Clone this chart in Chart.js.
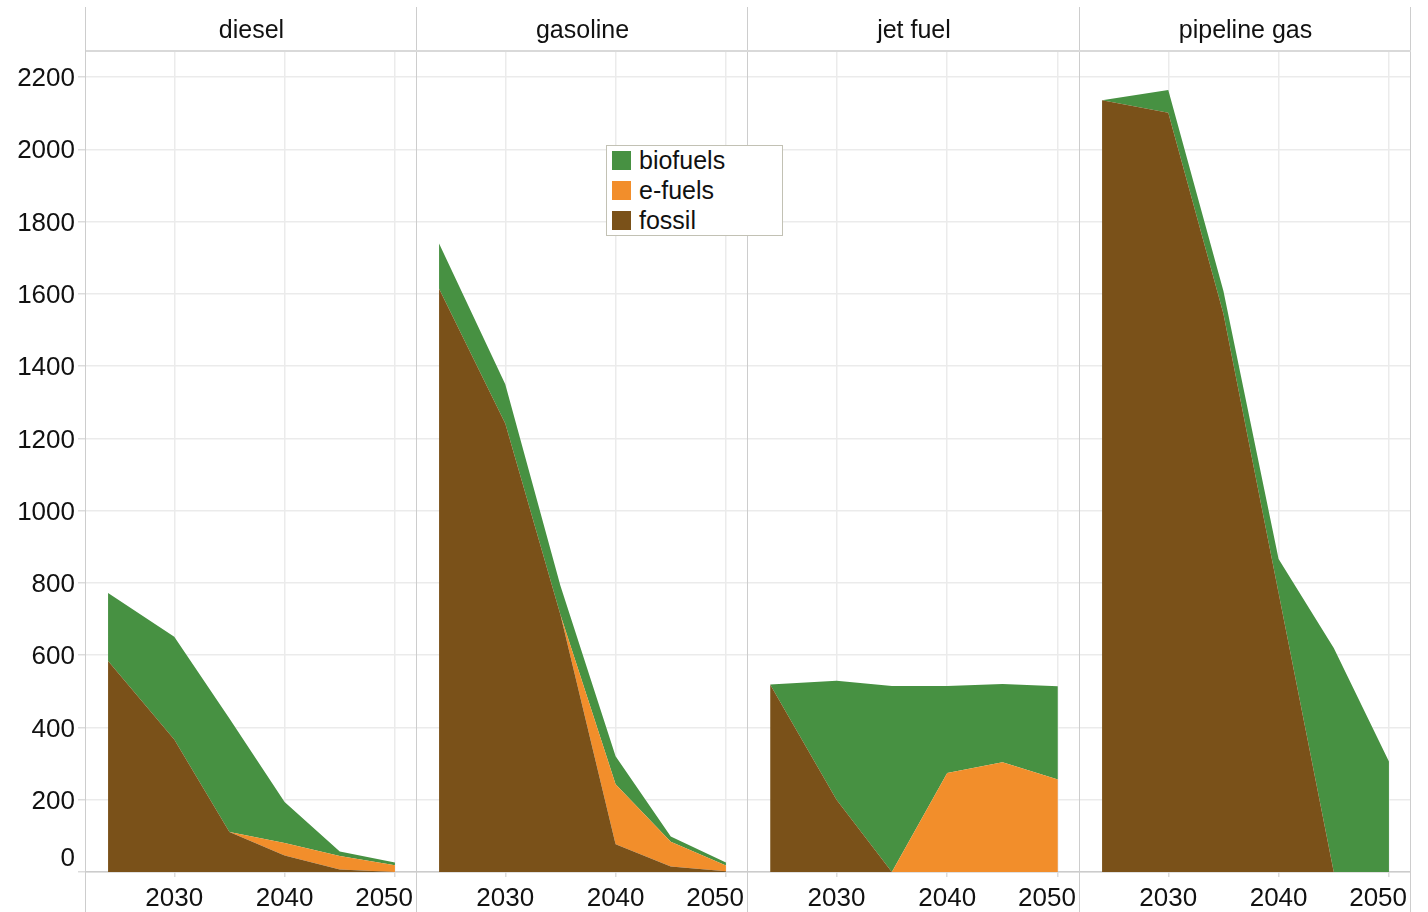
<!DOCTYPE html>
<html>
<head>
<meta charset="utf-8">
<script src="https://cdn.jsdelivr.net/npm/chart.js@4.4.1/dist/chart.umd.min.js"></script>
<style>
html,body{margin:0;padding:0;background:#ffffff;}
body{width:1428px;height:912px;position:relative;overflow:hidden;font-family:"Liberation Sans",Arial,sans-serif;color:#111;}
canvas{position:absolute;top:0;}
.strip{position:absolute;top:8px;height:42px;line-height:42px;text-align:center;font-size:25px;color:#111;}
.vline{position:absolute;top:7px;height:905px;width:0;border-left:1.5px solid #cdcdcd;z-index:3;}
.hline{position:absolute;top:50px;left:86px;width:1325px;height:0;border-top:2px solid #d9d9d9;z-index:3;}
#legend{position:absolute;left:606px;top:145px;width:177px;height:91px;box-sizing:border-box;border:1.5px solid #c2c1b4;background:#fff;z-index:5;}
.lsq{position:absolute;left:5px;width:19px;height:19px;}
.ltx{position:absolute;left:32px;height:19px;line-height:19px;font-size:25px;color:#111;white-space:nowrap;}
</style>
</head>
<body>
<div id="root"></div>
<div id="legend"></div>
<script>
// ---- data ----
const years = [2024, 2030, 2035, 2040, 2045, 2050];
const fuels = ['diesel', 'gasoline', 'jet fuel', 'pipeline gas'];
const xTicks = [2030, 2040, 2050];
const yTicks = [0, 200, 400, 600, 800, 1000, 1200, 1400, 1600, 1800, 2000, 2200];

// stacked from bottom: fossil, e-fuels, biofuels (one row per fuel, in order of fuels)
const fossil = [
  [584, 367, 111, 46, 7, 0],
  [1614, 1241, 712, 77, 15, 2],
  [519, 200, 0, 0, 0, 0],
  [2136, 2101, 1545, 772, 0, 0]
];
const efuels = [
  [0, 0, 0, 34, 37, 19],
  [0, 0, 0, 166, 69, 16],
  [0, 0, 0, 274, 304, 256],
  [0, 0, 0, 0, 0, 0]
];
const biofuels = [
  [188, 284, 314, 114, 13, 7],
  [125, 109, 80, 77, 14, 8],
  [0, 329, 515, 241, 216, 258],
  [0, 63, 63, 94, 620, 306]
];
const seriesNames = ['fossil', 'e-fuels', 'biofuels'];
const seriesColors = ['#7a5119', '#f28e2b', '#479142'];
const legendOrder = ['biofuels', 'e-fuels', 'fossil'];

// ---- layout ----
const edges = [86, 417, 748, 1080, 1411];
const FONT = '"Liberation Sans", Arial, sans-serif';
const root = document.getElementById('root');
const seriesValues = [fossil, efuels, biofuels];

fuels.forEach((fuel, i) => {
  const left = i === 0 ? 0 : edges[i];
  const width = edges[i + 1] - left;
  const cv = document.createElement('canvas');
  cv.width = width; cv.height = 912;
  cv.style.left = left + 'px';
  cv.style.width = width + 'px'; cv.style.height = '912px';
  root.appendChild(cv);

  const strip = document.createElement('div');
  strip.className = 'strip';
  strip.style.left = edges[i] + 'px';
  strip.style.width = (edges[i + 1] - edges[i]) + 'px';
  strip.textContent = fuel;
  root.appendChild(strip);

  const datasets = seriesNames.map((name, k) => ({
    label: name,
    data: years.map((yr, j) => ({ x: yr, y: seriesValues[k][i][j] })),
    backgroundColor: seriesColors[k],
    borderColor: seriesColors[k],
    borderWidth: 0,
    pointRadius: 0,
    tension: 0,
    fill: k === 0 ? 'origin' : '-1'
  }));

  new Chart(cv, {
    type: 'line',
    data: { datasets },
    options: {
      responsive: false,
      animation: false,
      devicePixelRatio: 1,
      layout: { padding: { top: 51, left: 0, right: 0, bottom: 0 } },
      plugins: { legend: { display: false }, tooltip: { enabled: false } },
      scales: {
        x: {
          type: 'linear', min: 2022, max: 2052,
          afterBuildTicks: s => { s.ticks = xTicks.map(v => ({ value: v })); },
          afterFit: s => { s.height = 40; s.paddingLeft = 0; s.paddingRight = 0; },
          grid: { color: '#ebebeb', lineWidth: 1.5, tickLength: 5, tickColor: '#dcdcdc' },
          border: { display: true, color: '#cccccc', width: 1.5 },
          ticks: {
            font: { family: FONT, size: 26 }, color: '#111', padding: 6,
            maxRotation: 0, autoSkip: false,
            callback: v => v === 2050 ? '2050\u00a0\u00a0\u00a0' : String(v)
          }
        },
        y: {
          type: 'linear', stacked: true, min: 0, max: 2272,
          afterBuildTicks: s => { s.ticks = yTicks.map(v => ({ value: v })); },
          afterFit: s => { s.width = i === 0 ? 86 : 0; },
          grid: { color: '#ebebeb', lineWidth: 1.5, drawTicks: i === 0, tickLength: 8, tickColor: '#dcdcdc' },
          border: { display: false },
          ticks: {
            display: i === 0,
            font: { family: FONT, size: 26 }, color: '#111', padding: 3,
            labelOffset: 2,
            callback: v => v === 0 ? ['0', ''] : String(v)
          }
        }
      }
    }
  });
});

edges.forEach(x => {
  const d = document.createElement('div');
  d.className = 'vline';
  d.style.left = (x - 0.75) + 'px';
  root.appendChild(d);
});
const h = document.createElement('div');
h.className = 'hline';
root.appendChild(h);

// legend (HTML, from series names/colours)
const lg = document.getElementById('legend');
legendOrder.forEach((name, r) => {
  const k = seriesNames.indexOf(name);
  const sq = document.createElement('div');
  sq.className = 'lsq';
  sq.style.top = (5 + 30 * r) + 'px';
  sq.style.background = seriesColors[k];
  const tx = document.createElement('div');
  tx.className = 'ltx';
  tx.style.top = (5 + 30 * r) + 'px';
  tx.textContent = name;
  lg.appendChild(sq); lg.appendChild(tx);
});
</script>
</body>
</html>
